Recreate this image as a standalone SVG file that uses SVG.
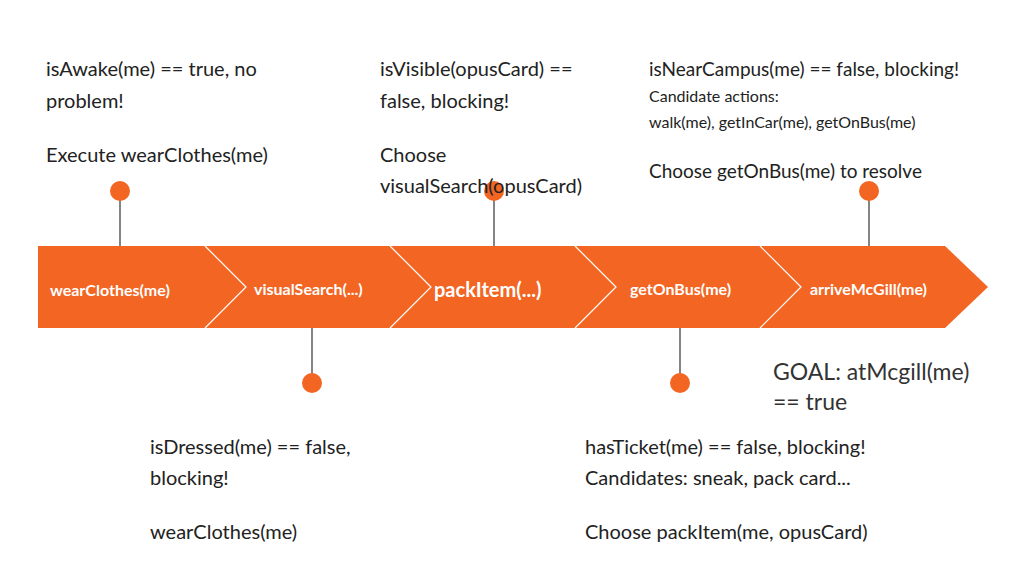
<svg xmlns="http://www.w3.org/2000/svg" width="1024" height="576" viewBox="0 0 1024 576">
<style>
text{font-family:Lato,"Open Sans",sans-serif;fill:#222}
.m{font-size:20px}.s{font-size:16px}.b{font-size:16px;font-weight:bold;fill:#fff}
.c{fill:#F26522}.l{stroke:#333;stroke-width:1.2}
.sep{fill:none;stroke:#fff;stroke-width:1.2}
</style>
<rect width="1024" height="576" fill="#fff"/>
<g id="band"><polygon class="c" points="38,246 945,246 988,287 945,328 38,328"/>
<polyline class="sep" points="205,246 246,287 205,328"/><polyline class="sep" points="390,246 431,287 390,328"/><polyline class="sep" points="575,246 616,287 575,328"/><polyline class="sep" points="760,246 801,287 760,328"/>
<text class="b" x="50" y="296">wearClothes(me)</text><text class="b" x="254" y="295" font-size="14">visualSearch(...)</text><text class="b" x="434" y="297" style="font-size:20px">packItem(...)</text><text class="b" x="630" y="295">getOnBus(me)</text><text class="b" x="810" y="295">arriveMcGill(me)</text></g>
<g id="connectors"><line class="l" x1="120" y1="191" x2="120" y2="246"/><line class="l" x1="494" y1="191" x2="494" y2="246"/><line class="l" x1="869" y1="191" x2="869" y2="246"/><line class="l" x1="312" y1="328" x2="312" y2="383"/><line class="l" x1="680" y1="328" x2="680" y2="383"/></g>
<g id="dots"><circle class="c" cx="120" cy="191" r="10"/><circle class="c" cx="494" cy="191" r="10"/><circle class="c" cx="869" cy="191" r="10"/><circle class="c" cx="312" cy="383" r="10"/><circle class="c" cx="680" cy="383" r="10"/></g>
<g id="n1"><text class="m" x="46" y="76">isAwake(me) == true, no</text><text class="m" x="46" y="108">problem!</text><text class="m" x="46" y="162">Execute wearClothes(me)</text></g>
<g id="n2"><text class="m" x="380" y="76">isVisible(opusCard) ==</text><text class="m" x="380" y="108">false, blocking!</text><text class="m" x="380" y="162">Choose</text><text class="m" x="380" y="193">visualSearch(opusCard)</text></g>
<g id="n3"><text class="m" x="649" y="76" style="font-size:19px">isNearCampus(me) == false, blocking!</text><text class="s" x="649" y="102">Candidate actions:</text><text class="s" x="649" y="128">walk(me), getInCar(me), getOnBus(me)</text><text class="m" x="649" y="178" style="font-size:19px">Choose getOnBus(me) to resolve</text></g>
<g id="n4"><text class="m" x="150" y="454">isDressed(me) == false,</text><text class="m" x="150" y="485">blocking!</text><text class="m" x="150" y="539">wearClothes(me)</text></g>
<g id="n5"><text class="m" x="585" y="454">hasTicket(me) == false, blocking!</text><text class="m" x="585" y="485">Candidates: sneak, pack card...</text><text class="m" x="585" y="539">Choose packItem(me, opusCard)</text></g>
<g id="goal"><text x="773" y="380" style="font-size:23px;fill:#333">GOAL: atMcgill(me)</text><text x="773" y="410" style="font-size:23px;fill:#333">== true</text></g>
</svg>
